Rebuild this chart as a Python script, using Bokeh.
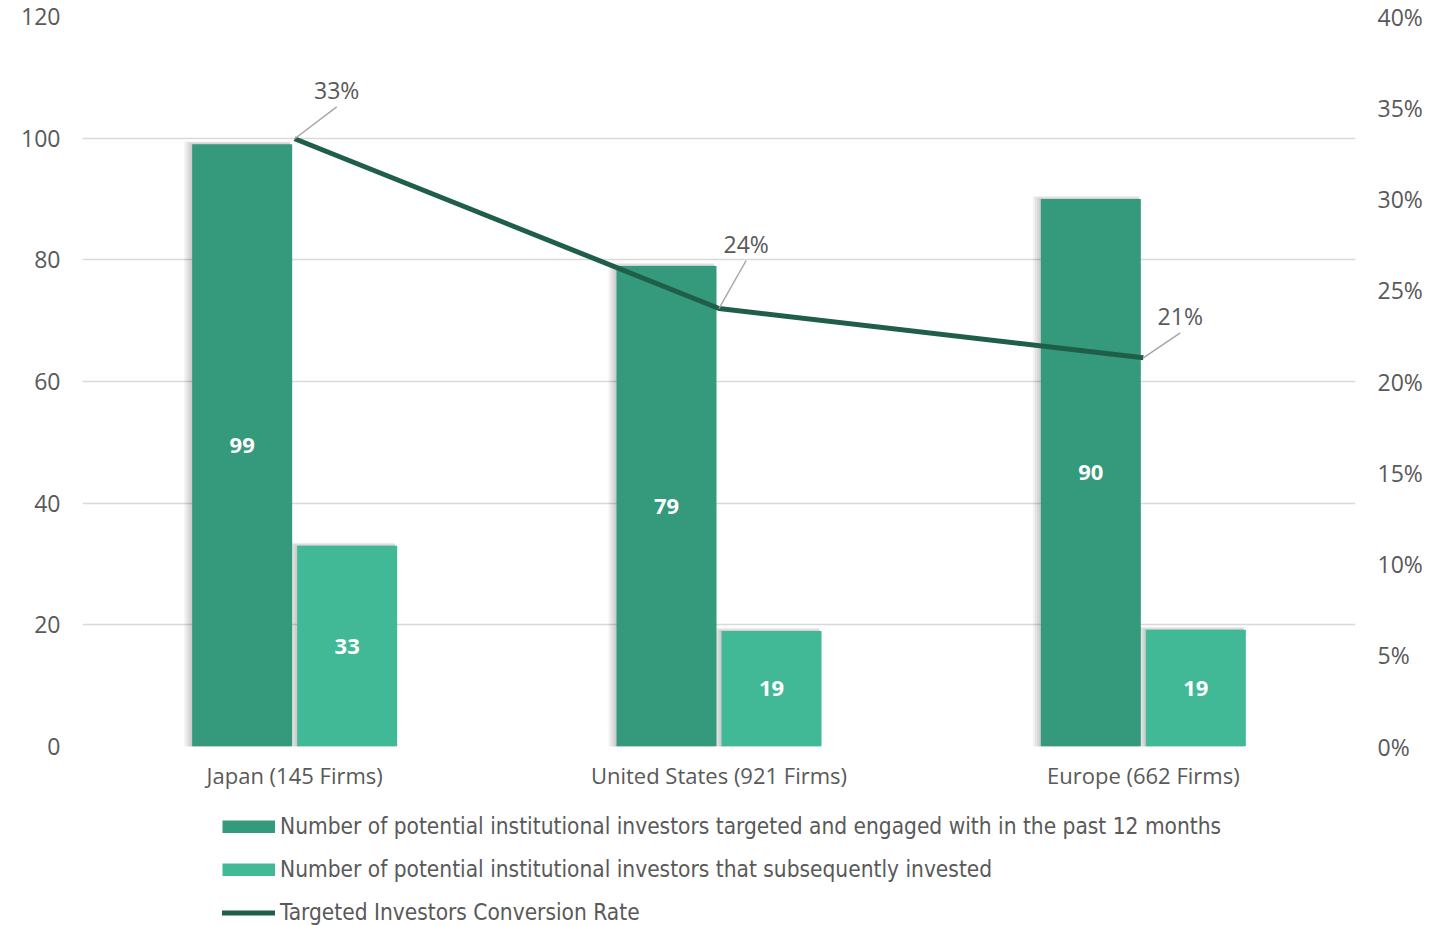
from bokeh.plotting import figure
from bokeh.layouts import column
from bokeh.models import (Range1d, LinearAxis, FixedTicker, PrintfTickFormatter,
                          ColumnDataSource, Legend, LegendItem)
from bokeh.core.properties import value
from bokeh.embed import file_html
from bokeh.resources import INLINE

# ---------------- data ----------------
categories = ["Japan (145 Firms)", "United States (921 Firms)", "Europe (662 Firms)"]
targeted = [99, 79, 90]
invested = [33, 19, 19.2]
conversion_rate = [33.3, 24.0, 21.3]          # percent
rate_labels = ["33%", "24%", "21%"]
left_ticks = [0, 20, 40, 60, 80, 100, 120]
right_ticks = [0, 5, 10, 15, 20, 25, 30, 35, 40]
series_names = [
    "Number of potential institutional investors targeted and engaged with in the past 12 months",
    "Number of potential institutional investors that subsequently invested",
    "Targeted Investors Conversion Rate",
]
# leader-line offsets of the rate labels (category units, percent units)
leader_dx = [0.099, 0.064, 0.087]
leader_dy = [1.75, 2.63, 1.37]

# ---------------- style ----------------
DARK = "#35997B"
LIGHT = "#41B996"
LINE = "#1F5E48"
TXT = "#595959"
GRID = "#D9D9D9"
FONT = "Open Sans"
LEG_FONT = "DejaVu Sans Condensed"

FRAME_W, FRAME_H = 1273, 730
px = 3.0 / FRAME_W          # one pixel in x data units
bar_w = 100 * px
bar_off = 52.5 * px

xc = [i + 0.5 for i in range(len(categories))]

p = figure(width=1450, height=800,
           x_range=Range1d(0, 3), y_range=Range1d(0, 120),
           output_backend="svg", toolbar_location=None,
           min_border_left=82, min_border_right=95, min_border_top=16, min_border_bottom=54)
p.outline_line_color = None
p.background_fill_color = "white"
p.border_fill_color = "white"

p.extra_y_ranges = {"pct": Range1d(0, 40)}

# axes
p.yaxis.ticker = FixedTicker(ticks=left_ticks)
for ax in [p.yaxis[0], p.xaxis[0]]:
    ax.axis_line_color = None
    ax.major_tick_line_color = None
    ax.minor_tick_line_color = None
    ax.major_label_text_font = FONT
    ax.major_label_text_color = TXT
p.yaxis.major_label_text_font_size = "23px"
p.yaxis.major_label_standoff = 16

p.xaxis.ticker = FixedTicker(ticks=xc)
p.xaxis.major_label_overrides = {x: c for x, c in zip(xc, categories)}
p.xaxis.major_label_text_font_size = "22px"
p.xaxis.major_label_standoff = 7

rax = LinearAxis(y_range_name="pct", ticker=FixedTicker(ticks=right_ticks),
                 formatter=PrintfTickFormatter(format="%d%%"))
rax.axis_line_color = None
rax.major_tick_line_color = None
rax.minor_tick_line_color = None
rax.major_label_text_font = FONT
rax.major_label_text_color = TXT
rax.major_label_text_font_size = "23px"
rax.major_label_standoff = 16
p.add_layout(rax, "right")

p.xgrid.grid_line_color = None
p.ygrid.grid_line_color = GRID
p.ygrid.grid_line_width = 1.5

# bar shadows
for vals, off in [(targeted, -bar_off), (invested, bar_off)]:
    for k in range(1, 5):
        p.quad(left=[x + off - bar_w / 2 - k * 2 * px for x in xc],
               right=[x + off + bar_w / 2 - 2 * px for x in xc],
               top=[v + k * 0.12 for v in vals], bottom=[-0.3] * 3,
               fill_color="black", fill_alpha=0.05, line_color=None)

src = ColumnDataSource(dict(
    x=xc, xd=[x - bar_off for x in xc], xl=[x + bar_off for x in xc],
    t=targeted, i=invested, r=conversion_rate,
    th=[v / 2 for v in targeted], ih=[v / 2 for v in invested],
    tl=[str(round(v)) for v in targeted], il=[str(round(v)) for v in invested],
))

p.vbar(x="xd", top="t", width=bar_w, source=src, fill_color=DARK, line_color=None)
p.vbar(x="xl", top="i", width=bar_w, source=src, fill_color=LIGHT, line_color=None)

p.text(x="xd", y="th", text="tl", source=src, text_color="white", text_align="center",
       text_baseline="middle", text_font=value(FONT), text_font_size="22px",
       text_font_style="bold")
p.text(x="xl", y="ih", text="il", source=src, text_color="white", text_align="center",
       text_baseline="middle", text_font=value(FONT), text_font_size="22px",
       text_font_style="bold")

p.line(x="x", y="r", source=src, y_range_name="pct", line_color=LINE, line_width=5,
       line_join="round")

# leader lines + rate labels
lx = [x + d for x, d in zip(xc, leader_dx)]
ly = [r + d for r, d in zip(conversion_rate, leader_dy)]
p.segment(x0=xc, y0=conversion_rate, x1=lx, y1=ly, y_range_name="pct",
          line_color="#A6A6A6", line_width=1.5)
p.text(x=lx, y=ly, text=rate_labels, y_range_name="pct", text_align="center",
       text_baseline="bottom", y_offset=-1, text_color=TXT, text_font=value(FONT),
       text_font_size="23px")

# ---------------- legend strip ----------------
# same data, drawn out of this strip's view: only the legend is visible here
lg = figure(width=1450, height=125, x_range=Range1d(100, 101), y_range=Range1d(1000, 1001),
            output_backend="svg", toolbar_location=None,
            min_border=0, min_border_left=82, min_border_right=95,
            min_border_top=0, min_border_bottom=0)
lg.axis.visible = False
lg.grid.visible = False
lg.outline_line_color = None
lg.background_fill_color = "white"
lg.border_fill_color = "white"
# thick butt-capped lines give full-size rectangular swatches
e1 = lg.line(x="xd", y="t", source=src, line_color=DARK, line_width=13, line_cap="butt")
e2 = lg.line(x="xl", y="i", source=src, line_color=LIGHT, line_width=13, line_cap="butt")
e3 = lg.line(x="x", y="r", source=src, line_color=LINE, line_width=5, line_cap="round")

legend = Legend(items=[LegendItem(label=series_names[0], renderers=[e1]),
                       LegendItem(label=series_names[1], renderers=[e2]),
                       LegendItem(label=series_names[2], renderers=[e3])],
                location=(140, 0), orientation="vertical",
                glyph_width=53, glyph_height=13, label_standoff=5,
                label_height=26, spacing=17, padding=0, margin=0,
                border_line_color=None, background_fill_alpha=0,
                label_text_font=LEG_FONT, label_text_font_size="22.5px",
                label_text_color=TXT)
lg.add_layout(legend, "center")

layout = column(p, lg, spacing=0)
open("out.html", "w").write(file_html(layout, INLINE))
